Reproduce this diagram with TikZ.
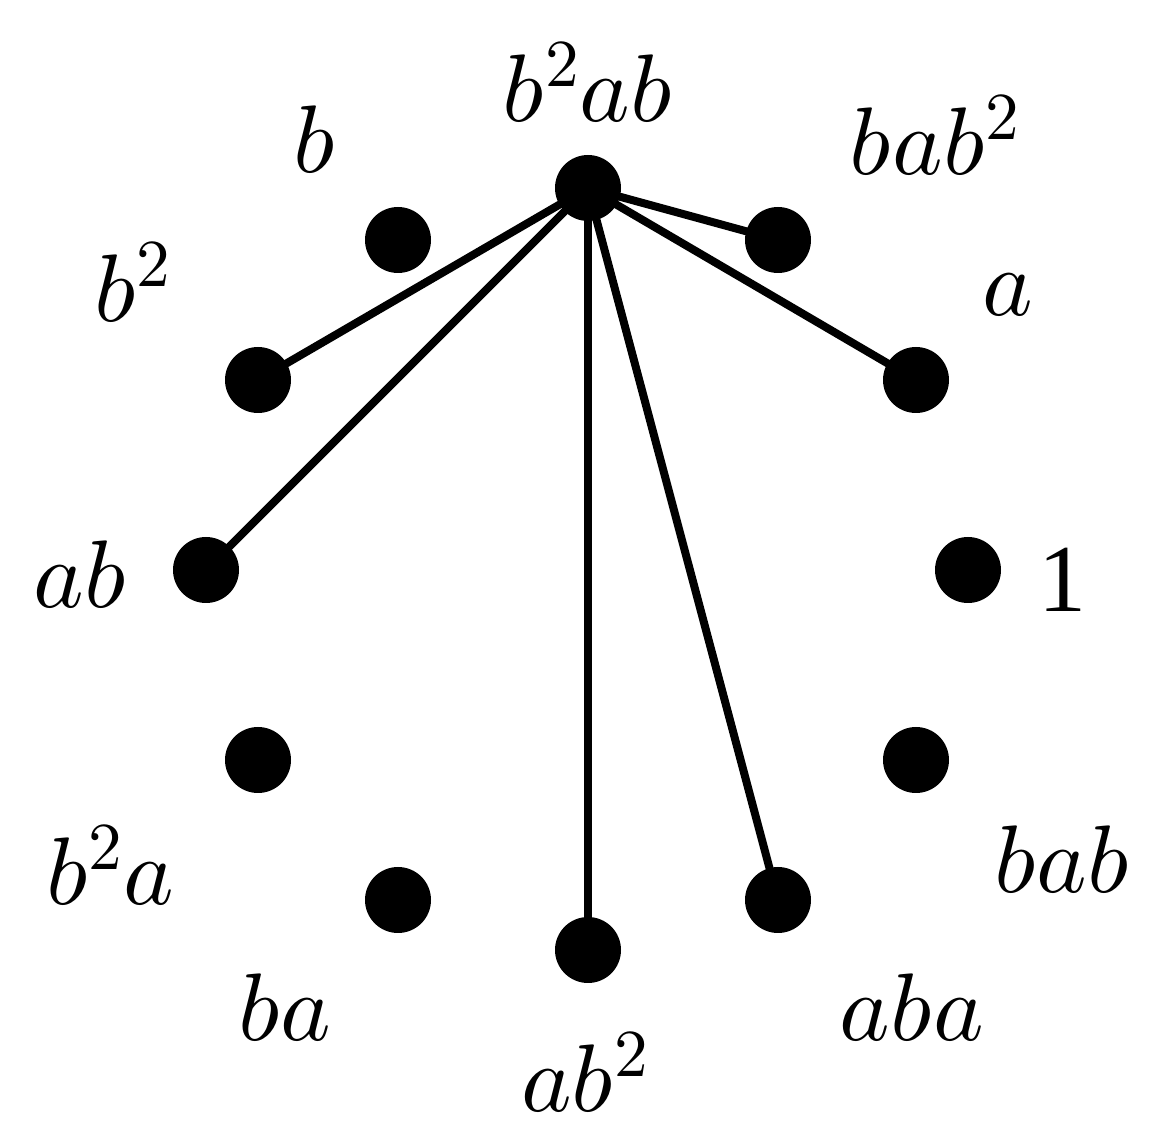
\documentclass[tikz,border=0pt]{standalone}
\usepackage{fontspec}
\setmainfont{Liberation Serif}
\usepackage{unicode-math}
\setmathfont{Latin Modern Math}
\begin{document}
\begin{tikzpicture}[x=0.5pt,y=-0.5pt,
  dot/.style={circle,fill=black,inner sep=0pt,minimum size=33pt},
  lab/.style={font=\fontsize{48}{56}\selectfont},
  edge/.style={line width=4pt}]
\useasboundingbox (0,0) rectangle (1158,1138);
\node[dot] (v0) at (588,188) {};
\node[dot] (v1) at (778,240) {};
\node[dot] (v2) at (916,380) {};
\node[dot] (v3) at (968,570) {};
\node[dot] (v4) at (916,760) {};
\node[dot] (v5) at (778,900) {};
\node[dot] (v6) at (588,950) {};
\node[dot] (v7) at (398,900) {};
\node[dot] (v8) at (258,760) {};
\node[dot] (v9) at (206,570) {};
\node[dot] (v10) at (258,380) {};
\node[dot] (v11) at (398,240) {};
\foreach \t in {v1,v2,v5,v6,v9,v10} \draw[edge] (v0.center) -- (\t.center);
\node[lab] (l0) at (588,82) {$b^2ab$};
\node[lab] (l1) at (935,135) {$bab^2$};
\node[lab] (l2) at (1008,295) {$a$};
\node[lab] (l3) at (1062,580) {$\mathrm{1}$};
\node[lab] (l4) at (1062,860) {$bab$};
\node[lab] (l5) at (912,1008) {$aba$};
\node[lab] (l6) at (585,1072) {$ab^2$};
\node[lab] (l7) at (285,1008) {$ba$};
\node[lab] (l8) at (110,865) {$b^2a$};
\node[lab] (l9) at (80,575) {$ab$};
\node[lab] (l10) at (133,282) {$b^2$};
\node[lab] (l11) at (315,140) {$b$};
\end{tikzpicture}
\end{document}
